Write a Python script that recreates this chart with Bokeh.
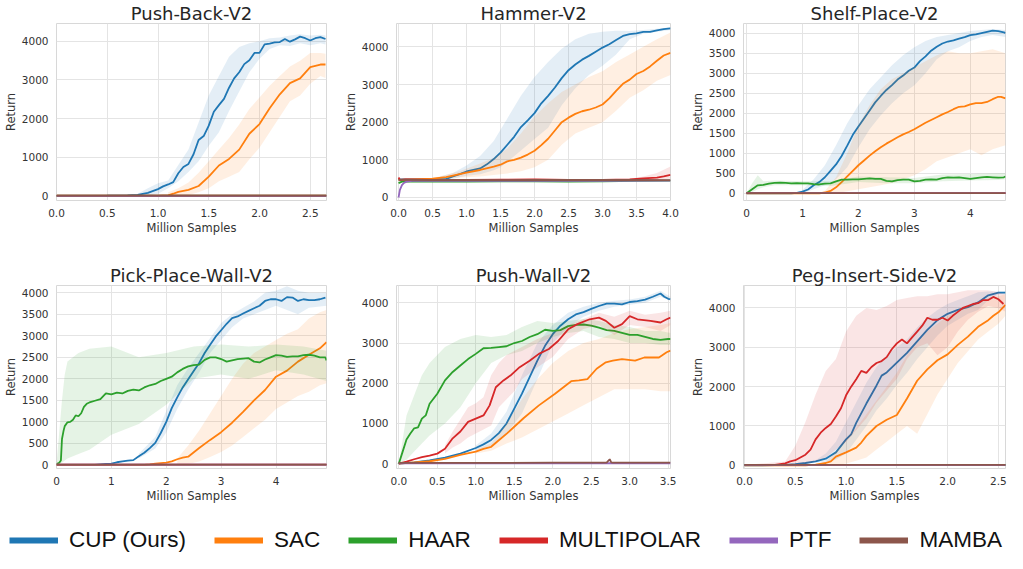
from bokeh.plotting import figure
from bokeh.layouts import column, row
from bokeh.models import Range1d, FixedTicker, Legend, LegendItem, PrintfTickFormatter
from bokeh.embed import file_html
from bokeh.resources import INLINE

methods = ["CUP (Ours)", "SAC", "HAAR", "MULTIPOLAR", "PTF", "MAMBA"]
colors = ["#1f77b4", "#ff7f0e", "#2ca02c", "#d62728", "#9467bd", "#8c564b"]

# ---------------- Push-Back-V2 ----------------
pb_cup_x = [0, 0.5, 0.7, 0.8, 0.9, 1.0, 1.05, 1.1, 1.15, 1.2, 1.25, 1.3, 1.35, 1.4, 1.45, 1.5, 1.55, 1.6, 1.65, 1.7,
            1.75, 1.8, 1.85, 1.9, 1.95, 2.0, 2.05, 2.1, 2.15, 2.2, 2.25, 2.3, 2.35, 2.4, 2.45, 2.5, 2.55, 2.6, 2.65]
pb_cup_y = [5, 10, 20, 30, 80, 180, 250, 300, 360, 590, 750, 830, 1080, 1450, 1550, 1820, 2180, 2350, 2510, 2800,
            3040, 3200, 3410, 3510, 3700, 3700, 3920, 3940, 3970, 3980, 4060, 3990, 4050, 4120, 4080, 4020, 4080, 4110, 4060]
pb_cup_bx = [0.7, 0.8, 0.9, 1.0, 1.1, 1.2, 1.3, 1.4, 1.5, 1.6, 1.7, 1.8, 1.9, 2.0, 2.1, 2.2, 2.3, 2.4, 2.5, 2.6, 2.65]
pb_cup_hi = [20, 60, 200, 330, 400, 800, 1200, 1900, 2600, 3100, 3600, 3850, 3950, 4000, 4080, 4100, 4150, 4180, 4150, 4170, 4150]
pb_cup_lo = [20, 0, 10, 60, 200, 380, 620, 900, 1300, 1650, 2200, 2700, 3200, 3550, 3800, 3900, 3880, 3950, 3900, 3950, 3920]
pb_sac_x = [0, 1.0, 1.1, 1.15, 1.2, 1.3, 1.4, 1.5, 1.6, 1.7, 1.8, 1.9, 2.0, 2.1, 2.2, 2.3, 2.4, 2.5, 2.6, 2.65]
pb_sac_y = [5, 5, 20, 60, 110, 160, 260, 500, 790, 960, 1200, 1610, 1860, 2270, 2630, 2920, 3040, 3330, 3400, 3400]
pb_sac_bx = [1.1, 1.2, 1.3, 1.4, 1.5, 1.6, 1.7, 1.8, 1.9, 2.0, 2.1, 2.2, 2.3, 2.4, 2.5, 2.6, 2.65]
pb_sac_hi = [100, 200, 350, 600, 900, 1200, 1500, 1850, 2250, 2550, 2850, 3100, 3350, 3500, 3700, 3700, 3680]
pb_sac_lo = [0, 0, 30, 100, 200, 380, 500, 620, 950, 1250, 1650, 2050, 2450, 2600, 2900, 3100, 3050]
pb_flat_x = [0, 2.66]
pb_haar_y = [8, 8]
pb_multi_y = [10, 10]
pb_ptf_y = [6, 6]
pb_mamba_y = [12, 12]

# ---------------- Hammer-V2 ----------------
hm_cup_x = [0, 0.5, 0.7, 0.8, 0.9, 1.0, 1.1, 1.2, 1.3, 1.4, 1.5, 1.6, 1.7, 1.8, 1.9, 2.0, 2.1, 2.2, 2.3, 2.4, 2.5,
            2.6, 2.7, 2.8, 2.9, 3.0, 3.1, 3.2, 3.3, 3.4, 3.5, 3.6, 3.7, 3.8, 3.9, 4.0]
hm_cup_y = [480, 490, 490, 560, 620, 690, 730, 770, 880, 1020, 1190, 1400, 1610, 1870, 2050, 2240, 2500, 2700, 2920,
            3170, 3380, 3530, 3660, 3760, 3870, 3980, 4070, 4180, 4290, 4340, 4360, 4400, 4400, 4440, 4470, 4490]
hm_cup_bx = [0.5, 0.8, 1.0, 1.2, 1.4, 1.5, 1.6, 1.8, 2.0, 2.2, 2.4, 2.6, 2.8, 3.0, 3.2, 3.4, 3.6, 3.8, 4.0]
hm_cup_hi = [500, 650, 850, 1100, 1500, 1800, 2100, 2700, 3200, 3600, 3950, 4200, 4350, 4400, 4430, 4420, 4450, 4480, 4520]
hm_cup_lo = [470, 500, 580, 620, 720, 800, 950, 1250, 1550, 1850, 2450, 2900, 3250, 3500, 3800, 4200, 4350, 4400, 4450]
hm_sac_x = [0, 0.5, 0.7, 0.9, 1.0, 1.2, 1.4, 1.5, 1.6, 1.7, 1.8, 1.9, 2.0, 2.1, 2.2, 2.3, 2.4, 2.5, 2.6, 2.7, 2.8,
            2.9, 3.0, 3.1, 3.2, 3.3, 3.4, 3.5, 3.6, 3.7, 3.8, 3.9, 4.0]
hm_sac_y = [470, 500, 540, 620, 660, 730, 820, 870, 960, 1000, 1060, 1140, 1240, 1390, 1560, 1780, 2000, 2120, 2220,
            2290, 2330, 2390, 2470, 2630, 2830, 3020, 3130, 3280, 3360, 3480, 3630, 3770, 3840]
hm_sac_bx = [0.5, 0.9, 1.2, 1.4, 1.6, 1.8, 2.0, 2.2, 2.4, 2.6, 2.8, 3.0, 3.2, 3.4, 3.6, 3.8, 4.0]
hm_sac_hi = [510, 700, 900, 1050, 1300, 1700, 2150, 2500, 2800, 3000, 3200, 3350, 3600, 3800, 4000, 4200, 4380]
hm_sac_lo = [480, 530, 560, 600, 640, 700, 800, 1000, 1400, 1700, 1850, 2000, 2300, 2650, 2850, 3100, 3250]
hm_haar_x = [0, 0.05, 0.5, 1.0, 1.5, 2.0, 2.5, 3.0, 3.5, 4.0]
hm_haar_y = [380, 420, 420, 425, 430, 430, 425, 430, 440, 450]
hm_multi_x = [0, 0.02, 0.1, 0.5, 1.0, 1.5, 2.0, 2.5, 3.0, 3.4, 3.6, 3.8, 3.9, 4.0]
hm_multi_y = [530, 470, 480, 470, 465, 475, 480, 470, 470, 480, 510, 530, 560, 600]
hm_multi_bx = [3.4, 3.6, 3.8, 4.0]
hm_multi_hi = [500, 560, 650, 820]
hm_multi_lo = [460, 470, 480, 500]
hm_ptf_x = [0, 0.02, 0.05, 0.08, 0.12, 0.2, 1.0, 2.0, 3.0, 4.0]
hm_ptf_y = [0, 200, 330, 390, 420, 440, 445, 445, 445, 450]
hm_mamba_x = [0, 0.5, 1.0, 1.5, 2.0, 2.5, 3.0, 3.5, 4.0]
hm_mamba_y = [470, 465, 470, 460, 470, 465, 470, 465, 460]

# ---------------- Shelf-Place-V2 ----------------
sp_cup_x = [0, 0.8, 0.9, 1.0, 1.1, 1.2, 1.3, 1.4, 1.5, 1.6, 1.7, 1.8, 1.9, 2.0, 2.1, 2.2, 2.3, 2.4, 2.5, 2.6, 2.7,
            2.8, 2.9, 3.0, 3.1, 3.2, 3.3, 3.4, 3.5, 3.6, 3.7, 3.8, 3.9, 4.0, 4.1, 4.2, 4.3, 4.4, 4.5, 4.6, 4.63]
sp_cup_y = [0, 0, 10, 40, 95, 200, 280, 400, 560, 720, 930, 1190, 1460, 1670, 1870, 2070, 2270, 2430, 2580, 2700,
            2840, 2940, 3060, 3140, 3300, 3420, 3560, 3660, 3740, 3790, 3820, 3860, 3900, 3950, 3970, 4000, 4030,
            4060, 4050, 4020, 4000]
sp_cup_bx = [0.9, 1.0, 1.2, 1.4, 1.6, 1.8, 2.0, 2.2, 2.4, 2.6, 2.8, 3.0, 3.2, 3.4, 3.6, 3.8, 4.0, 4.2, 4.4, 4.63]
sp_cup_hi = [20, 80, 350, 700, 1200, 1750, 2200, 2600, 2900, 3200, 3450, 3650, 3800, 3900, 3950, 4000, 4050, 4080, 4100, 4080]
sp_cup_lo = [0, 0, 100, 200, 350, 650, 1150, 1600, 1950, 2250, 2500, 2700, 3000, 3350, 3550, 3650, 3800, 3900, 3950, 3900]
sp_sac_x = [0, 1.3, 1.4, 1.5, 1.6, 1.7, 1.8, 1.9, 2.0, 2.1, 2.2, 2.3, 2.4, 2.5, 2.6, 2.7, 2.8, 2.9, 3.0, 3.1, 3.2,
            3.3, 3.4, 3.5, 3.6, 3.7, 3.8, 3.9, 4.0, 4.1, 4.2, 4.3, 4.4, 4.5, 4.55, 4.63]
sp_sac_y = [0, 0, 20, 60, 150, 280, 420, 560, 700, 820, 940, 1050, 1150, 1240, 1320, 1400, 1470, 1530, 1600, 1680,
            1760, 1830, 1900, 1970, 2030, 2100, 2160, 2170, 2220, 2250, 2250, 2280, 2350, 2410, 2410, 2370]
sp_sac_bx = [1.4, 1.6, 1.8, 2.0, 2.2, 2.4, 2.6, 2.8, 3.0, 3.2, 3.4, 3.6, 3.8, 4.0, 4.2, 4.4, 4.63]
sp_sac_hi = [60, 400, 1000, 1700, 2200, 2600, 2850, 3000, 3150, 3300, 3450, 3550, 3500, 3500, 3550, 3600, 3500]
sp_sac_lo = [0, 0, 50, 100, 150, 200, 260, 350, 450, 600, 800, 900, 1000, 1100, 950, 1100, 1200]
sp_haar_x = [0, 0.1, 0.2, 0.3, 0.4, 0.5, 0.6, 0.7, 0.8, 0.9, 1.0, 1.1, 1.2, 1.3, 1.4, 1.5, 1.6, 1.7, 1.8, 1.9,
             2.0, 2.1, 2.2, 2.3, 2.4, 2.5, 2.6, 2.7, 2.8, 2.9, 3.0, 3.1, 3.2, 3.3, 3.4, 3.5, 3.6, 3.7, 3.8, 3.9,
             4.0, 4.1, 4.2, 4.3, 4.4, 4.5, 4.6, 4.63]
sp_haar_y = [0, 100, 200, 210, 240, 260, 265, 260, 250, 255, 250, 250, 230, 220, 240, 250, 300, 340, 340, 350,
             350, 360, 370, 360, 360, 310, 300, 330, 340, 340, 300, 310, 340, 350, 340, 380, 400, 390, 400, 380,
             360, 380, 400, 410, 400, 390, 400, 420]
sp_haar_bx = [0, 0.1, 0.2, 0.3, 0.5, 1.0, 1.5, 2.0, 2.5, 3.0, 3.5, 4.0, 4.5, 4.63]
sp_haar_hi = [0, 250, 450, 300, 320, 300, 300, 420, 400, 380, 470, 480, 500, 500]
sp_haar_lo = [0, 30, 100, 150, 200, 200, 180, 280, 250, 250, 300, 320, 330, 350]
sp_flat_x = [0, 4.65]
sp_multi_y = [4, 4]
sp_ptf_y = [3, 3]
sp_mamba_y = [6, 6]

# ---------------- Pick-Place-Wall-V2 ----------------
ppw_cup_x = [0, 0.7, 0.8, 0.9, 1.0, 1.1, 1.2, 1.3, 1.4, 1.5, 1.6, 1.7, 1.8, 1.9, 2.0, 2.1, 2.2, 2.3, 2.4, 2.5,
             2.6, 2.7, 2.8, 2.9, 3.0, 3.1, 3.2, 3.3, 3.4, 3.5, 3.6, 3.7, 3.8, 3.9, 4.0, 4.1, 4.2, 4.3, 4.4, 4.5,
             4.6, 4.7, 4.8, 4.9]
ppw_cup_y = [0, 0, 10, 20, 30, 60, 80, 100, 110, 200, 280, 390, 510, 740, 1000, 1320, 1570, 1800, 1990, 2180,
             2370, 2600, 2790, 2980, 3130, 3280, 3410, 3450, 3520, 3580, 3640, 3700, 3810, 3850, 3850, 3810, 3900,
             3890, 3810, 3850, 3830, 3830, 3850, 3890]
ppw_cup_bx = [1.5, 1.8, 2.0, 2.2, 2.4, 2.6, 2.8, 3.0, 3.2, 3.4, 3.6, 3.8, 4.0, 4.2, 4.4, 4.6, 4.92]
ppw_cup_hi = [260, 650, 1250, 1850, 2250, 2600, 2950, 3300, 3500, 3650, 3800, 4000, 4050, 4150, 4050, 4000, 4000]
ppw_cup_lo = [150, 380, 750, 1300, 1750, 2150, 2600, 2900, 3200, 3400, 3500, 3600, 3700, 3600, 3500, 3650, 3700]
ppw_sac_x = [0, 1.6, 1.7, 1.8, 1.9, 2.0, 2.1, 2.2, 2.3, 2.4, 2.6, 2.8, 3.0, 3.2, 3.4, 3.6, 3.8, 4.0, 4.2, 4.4,
             4.6, 4.8, 4.92]
ppw_sac_y = [0, 0, 10, 30, 40, 50, 80, 130, 170, 190, 390, 580, 760, 980, 1230, 1500, 1740, 2050, 2190, 2400,
             2560, 2710, 2850]
ppw_sac_bx = [2.2, 2.4, 2.6, 2.8, 3.0, 3.2, 3.4, 3.6, 3.8, 4.0, 4.2, 4.4, 4.6, 4.8, 4.92]
ppw_sac_hi = [150, 450, 800, 1200, 1600, 2000, 2350, 2600, 2750, 2900, 3050, 3150, 3400, 3550, 3600]
ppw_sac_lo = [20, 20, 80, 180, 300, 450, 650, 850, 1050, 1300, 1450, 1600, 1700, 1850, 1900]
ppw_haar_x = [0, 0.05, 0.08, 0.1, 0.13, 0.15, 0.2, 0.25, 0.3, 0.35, 0.4, 0.45, 0.5, 0.55, 0.6, 0.7, 0.8, 0.9,
              1.0, 1.1, 1.2, 1.3, 1.4, 1.5, 1.6, 1.7, 1.8, 1.9, 2.0, 2.1, 2.2, 2.3, 2.4, 2.5, 2.6, 2.7, 2.8, 2.9,
              3.0, 3.1, 3.2, 3.3, 3.4, 3.5, 3.6, 3.7, 3.8, 3.9, 4.0, 4.1, 4.2, 4.3, 4.4, 4.5, 4.6, 4.7, 4.8, 4.9, 4.92]
ppw_haar_y = [20, 50, 100, 600, 800, 900, 990, 1000, 1050, 1150, 1130, 1200, 1350, 1420, 1450, 1490, 1530, 1660,
              1640, 1680, 1660, 1720, 1750, 1730, 1800, 1850, 1880, 1950, 2000, 2050, 2150, 2230, 2290, 2320, 2330,
              2440, 2500, 2500, 2460, 2400, 2430, 2460, 2470, 2480, 2400, 2380, 2450, 2500, 2550, 2540, 2510, 2520,
              2520, 2550, 2560, 2540, 2500, 2500, 2430]
ppw_haar_bx = [0, 0.1, 0.15, 0.2, 0.4, 0.6, 1.0, 1.5, 2.0, 2.5, 3.0, 3.5, 4.0, 4.5, 4.92]
ppw_haar_hi = [20, 1500, 2100, 2400, 2600, 2700, 2750, 2500, 2600, 2750, 2800, 2750, 2800, 2750, 2650]
ppw_haar_lo = [0, 50, 100, 150, 250, 350, 700, 950, 1400, 2000, 2100, 2000, 2200, 2100, 1950]
ppw_flat_x = [0, 4.93]
ppw_multi_y = [4, 4]
ppw_ptf_y = [3, 3]
ppw_mamba_y = [6, 6]

# ---------------- Push-Wall-V2 ----------------
pw_cup_x = [0, 0.2, 0.4, 0.6, 0.8, 1.0, 1.1, 1.2, 1.3, 1.4, 1.5, 1.6, 1.7, 1.8, 1.9, 2.0, 2.1, 2.2, 2.3, 2.4,
            2.5, 2.6, 2.7, 2.8, 2.9, 3.0, 3.1, 3.2, 3.3, 3.4, 3.45, 3.5, 3.53]
pw_cup_y = [0, 30, 80, 150, 250, 390, 480, 590, 760, 1000, 1370, 1740, 2150, 2560, 2930, 3220, 3430, 3590, 3710,
            3770, 3850, 3920, 3980, 3980, 3960, 4020, 4040, 4080, 4150, 4230, 4150, 4100, 4090]
pw_cup_bx = [1.0, 1.2, 1.4, 1.6, 1.8, 2.0, 2.2, 2.4, 2.6, 2.8, 3.0, 3.2, 3.4, 3.53]
pw_cup_hi = [450, 750, 1300, 2200, 3000, 3450, 3750, 3900, 4000, 4050, 4080, 4150, 4300, 4150]
pw_cup_lo = [330, 450, 750, 1250, 2100, 3000, 3400, 3650, 3800, 3900, 3950, 4000, 4150, 4050]
pw_sac_x = [0, 0.2, 0.4, 0.6, 0.8, 1.0, 1.1, 1.2, 1.28, 1.41, 1.62, 1.82, 2.03, 2.24, 2.34, 2.45, 2.57, 2.69,
            2.78, 2.9, 3.07, 3.19, 3.38, 3.48, 3.53]
pw_sac_y = [0, 30, 60, 120, 220, 300, 370, 420, 550, 760, 1130, 1450, 1740, 2050, 2070, 2100, 2360, 2520, 2560,
            2600, 2560, 2640, 2640, 2770, 2810]
pw_sac_bx = [1.0, 1.2, 1.4, 1.6, 1.8, 2.0, 2.2, 2.4, 2.6, 2.8, 3.0, 3.2, 3.4, 3.53]
pw_sac_hi = [350, 500, 1000, 1600, 2100, 2500, 2800, 3000, 3100, 3250, 3350, 3400, 3450, 3500]
pw_sac_lo = [250, 320, 500, 650, 850, 1050, 1250, 1450, 1650, 1850, 1850, 1850, 1800, 1800]
pw_haar_x = [0, 0.05, 0.1, 0.15, 0.2, 0.25, 0.3, 0.35, 0.4, 0.5, 0.6, 0.7, 0.8, 0.9, 1.0, 1.1, 1.2, 1.3, 1.4,
             1.5, 1.6, 1.7, 1.8, 1.9, 2.0, 2.1, 2.2, 2.3, 2.4, 2.5, 2.6, 2.7, 2.8, 2.9, 3.0, 3.1, 3.2, 3.3, 3.4,
             3.5, 3.53]
pw_haar_y = [0, 300, 600, 750, 880, 900, 1120, 1200, 1490, 1740, 2070, 2280, 2440, 2600, 2730, 2870, 2880, 2900,
             2920, 3000, 3050, 3150, 3220, 3330, 3300, 3320, 3420, 3450, 3460, 3430, 3380, 3320, 3300, 3250, 3200,
             3200, 3150, 3100, 3080, 3100, 3100]
pw_haar_bx = [0, 0.1, 0.2, 0.3, 0.4, 0.6, 0.8, 1.0, 1.2, 1.4, 1.6, 1.8, 2.0, 2.2, 2.4, 2.6, 2.8, 3.0, 3.2, 3.4, 3.53]
pw_haar_hi = [0, 1200, 1700, 2200, 2500, 2900, 3100, 3200, 3150, 3200, 3400, 3550, 3500, 3550, 3600, 3550, 3450,
              3400, 3300, 3300, 3250]
pw_haar_lo = [0, 100, 300, 500, 700, 1000, 1400, 2000, 2500, 2700, 2800, 3000, 3150, 3250, 3300, 3150, 3100, 3000,
              3000, 2950, 2950]
pw_multi_x = [0, 0.1, 0.2, 0.3, 0.4, 0.5, 0.6, 0.7, 0.8, 0.9, 1.0, 1.1, 1.18, 1.26, 1.36, 1.45, 1.57, 1.7, 1.82,
              1.95, 2.07, 2.2, 2.32, 2.48, 2.6, 2.69, 2.8, 2.9, 3.0, 3.1, 3.27, 3.4, 3.48, 3.53]
pw_multi_y = [0, 50, 110, 160, 200, 250, 370, 630, 800, 1040, 1120, 1200, 1450, 1900, 2070, 2190, 2400, 2560, 2730,
              2850, 3050, 3340, 3470, 3590, 3630, 3550, 3380, 3470, 3670, 3590, 3550, 3510, 3590, 3630]
pw_multi_bx = [0.6, 0.7, 0.8, 0.9, 1.0, 1.1, 1.2, 1.3, 1.4, 1.5, 1.6, 1.8, 2.0, 2.2, 2.4, 2.6, 2.8, 3.0, 3.2, 3.4, 3.53]
pw_multi_hi = [450, 800, 1100, 1400, 1500, 1650, 2200, 2500, 2700, 2800, 2900, 3100, 3250, 3450, 3600, 3750, 3650,
               3800, 3700, 3750, 3800]
pw_multi_lo = [250, 400, 500, 650, 750, 850, 950, 1400, 1600, 1800, 2100, 2400, 2650, 3100, 3350, 3450, 3200, 3450,
               3400, 3300, 3450]
pw_ptf_x = [0, 3.53]
pw_ptf_y = [10, 10]
pw_mamba_x = [0, 1.0, 2.0, 2.7, 2.74, 2.76, 2.78, 3.53]
pw_mamba_y = [20, 20, 25, 25, 110, 30, 25, 25]

# ---------------- Peg-Insert-Side-V2 ----------------
pis_cup_x = [0, 0.3, 0.4, 0.5, 0.6, 0.7, 0.8, 0.85, 0.9, 1.0, 1.05, 1.1, 1.2, 1.3, 1.35, 1.4, 1.5, 1.6, 1.7, 1.8,
             1.9, 2.0, 2.1, 2.2, 2.3, 2.4, 2.5, 2.57]
pis_cup_y = [0, 5, 10, 30, 60, 100, 170, 250, 330, 660, 790, 1080, 1570, 2030, 2280, 2360, 2610, 2860, 3150, 3440,
             3690, 3850, 3950, 4020, 4140, 4320, 4390, 4390]
pis_cup_bx = [0.7, 0.8, 0.9, 1.0, 1.1, 1.2, 1.3, 1.4, 1.5, 1.6, 1.7, 1.8, 1.9, 2.0, 2.1, 2.2, 2.3, 2.4, 2.5, 2.57]
pis_cup_hi = [130, 300, 600, 1100, 1600, 2100, 2500, 2800, 3000, 3200, 3500, 3750, 3950, 4100, 4200, 4300, 4400,
              4420, 4420, 4420]
pis_cup_lo = [70, 80, 150, 300, 650, 1000, 1400, 1700, 2050, 2350, 2700, 3000, 3300, 3550, 3700, 3850, 3950, 4200,
              4350, 4350]
pis_sac_x = [0, 0.6, 0.7, 0.8, 0.85, 0.9, 1.0, 1.1, 1.15, 1.2, 1.3, 1.4, 1.5, 1.6, 1.7, 1.8, 1.9, 2.0, 2.1, 2.2,
             2.3, 2.4, 2.45, 2.5, 2.57]
pis_sac_y = [0, 0, 20, 60, 100, 220, 330, 450, 580, 750, 1000, 1160, 1280, 1700, 2150, 2440, 2670, 2820, 3060, 3270,
             3520, 3690, 3800, 3890, 4080]
pis_sac_bx = [0.8, 0.9, 1.0, 1.1, 1.2, 1.3, 1.4, 1.5, 1.6, 1.7, 1.8, 1.9, 2.0, 2.1, 2.2, 2.3, 2.4, 2.5, 2.57]
pis_sac_hi = [100, 350, 650, 950, 1300, 1650, 2000, 2350, 2800, 3100, 3400, 3600, 3800, 3900, 4050, 4150, 4250,
              4300, 4350]
pis_sac_lo = [0, 10, 50, 120, 200, 400, 600, 800, 1000, 800, 1300, 1800, 2200, 2600, 2900, 3200, 3400, 3600, 3800]
pis_multi_x = [0, 0.3, 0.35, 0.4, 0.45, 0.5, 0.55, 0.6, 0.65, 0.7, 0.75, 0.8, 0.85, 0.9, 0.95, 1.0, 1.05, 1.1,
               1.15, 1.2, 1.25, 1.3, 1.35, 1.4, 1.45, 1.5, 1.55, 1.6, 1.65, 1.7, 1.75, 1.8, 1.85, 1.9, 1.95, 2.0,
               2.05, 2.1, 2.15, 2.2, 2.25, 2.3, 2.35, 2.4, 2.45, 2.5, 2.55]
pis_multi_y = [10, 10, 30, 50, 100, 130, 200, 270, 400, 660, 830, 950, 1050, 1240, 1450, 1780, 2000, 2190, 2400,
               2350, 2500, 2600, 2650, 2750, 2950, 3100, 3200, 3100, 3250, 3400, 3550, 3750, 3700, 3700, 3750, 3680,
               3800, 3900, 4000, 4050, 4100, 4120, 4200, 4200, 4280, 4220, 4100]
pis_multi_bx = [0, 0.4, 0.5, 0.6, 0.7, 0.8, 0.9, 1.0, 1.1, 1.2, 1.3, 1.4, 1.5, 1.6, 1.7, 1.8, 1.9, 2.0, 2.1, 2.2,
                2.3, 2.4, 2.5, 2.57]
pis_multi_hi = [10, 100, 500, 1100, 1800, 2400, 2700, 3400, 3800, 4000, 3950, 4050, 4200, 4250, 4300, 4300, 4350,
                4350, 4400, 4450, 4450, 4450, 4400, 4350]
pis_multi_lo = [0, 0, 10, 30, 100, 200, 400, 600, 900, 1200, 1600, 1900, 2200, 2700, 3000, 3100, 2800, 3000, 3400,
                3700, 3900, 4050, 4000, 3900]
pis_flat_x = [0, 2.6]
pis_haar_y = [12, 12]
pis_ptf_y = [8, 8]
pis_mamba_y = [14, 14]

# ---------------- axes ----------------
ticks_pb_x = [0.0, 0.5, 1.0, 1.5, 2.0, 2.5]
ticks_hm_x = [0.0, 0.5, 1.0, 1.5, 2.0, 2.5, 3.0, 3.5, 4.0]
ticks_int5 = [0, 1, 2, 3, 4]
ticks_pw_x = [0.0, 0.5, 1.0, 1.5, 2.0, 2.5, 3.0, 3.5]
ticks_pis_x = [0.0, 0.5, 1.0, 1.5, 2.0, 2.5]
ticks_y1000 = [0, 1000, 2000, 3000, 4000]
ticks_y500 = [0, 500, 1000, 1500, 2000, 2500, 3000, 3500, 4000]

TXT = "#333333"
FONT = "DejaVu Sans"


def make_fig(title, width, height, left, right, bottom, xr, yr, xt, xfmt, yt):
    p = figure(width=width, height=height, toolbar_location=None, output_backend="svg",
               x_range=Range1d(*xr), y_range=Range1d(*yr),
               min_border_left=left, min_border_right=right, min_border_top=10, min_border_bottom=bottom)
    p.title.text = title
    p.title.align = "center"
    p.title.text_font = FONT
    p.title.text_font_size = "18px"
    p.title.text_font_style = "normal"
    p.title.text_color = "#262626"
    p.title.standoff = 0
    p.title.offset = 0
    p.xaxis.ticker = FixedTicker(ticks=xt)
    p.xaxis.formatter = PrintfTickFormatter(format=xfmt)
    p.yaxis.ticker = FixedTicker(ticks=yt)
    p.xaxis.axis_label = "Million Samples"
    p.yaxis.axis_label = "Return"
    for ax in (p.xaxis[0], p.yaxis[0]):
        ax.axis_line_color = None
        ax.major_tick_line_color = None
        ax.minor_tick_line_color = None
        ax.major_label_text_font = FONT
        ax.major_label_text_font_size = "10.5px"
        ax.major_label_text_color = TXT
        ax.major_label_standoff = 2
        ax.axis_label_text_font = FONT
        ax.axis_label_text_font_size = "11.5px"
        ax.axis_label_text_font_style = "normal"
        ax.axis_label_text_color = TXT
        ax.axis_label_standoff = 1
    p.xgrid.grid_line_color = "#e4e4e4"
    p.ygrid.grid_line_color = "#e4e4e4"
    p.outline_line_color = "#d8d8d8"
    p.outline_line_width = 1
    p.background_fill_color = "white"
    p.border_fill_color = "white"
    return p


def draw(p, series):
    for s in series:
        color = colors[methods.index(s[0])]
        if len(s) > 3:
            p.varea(x=s[3], y1=s[4], y2=s[5], fill_color=color, fill_alpha=0.12)
        p.line(x=s[1], y=s[2], line_color=color, line_width=1.8)


H1, H2, H3 = 262, 243, 48

f1 = make_fig("Push-Back-V2", 340, H1, 39, 14, 62, (0, 2.66), (-115, 4460), ticks_pb_x, "%.1f", ticks_y1000)
draw(f1, [("CUP (Ours)", pb_cup_x, pb_cup_y, pb_cup_bx, pb_cup_lo, pb_cup_hi),
          ("SAC", pb_sac_x, pb_sac_y, pb_sac_bx, pb_sac_lo, pb_sac_hi),
          ("HAAR", pb_flat_x, pb_haar_y), ("MULTIPOLAR", pb_flat_x, pb_multi_y),
          ("PTF", pb_flat_x, pb_ptf_y), ("MAMBA", pb_flat_x, pb_mamba_y)])

f2 = make_fig("Hammer-V2", 347, H1, 46, 17, 62, (-0.03, 4.0), (-80, 4620), ticks_hm_x, "%.1f", ticks_y1000)
draw(f2, [("CUP (Ours)", hm_cup_x, hm_cup_y, hm_cup_bx, hm_cup_lo, hm_cup_hi),
          ("SAC", hm_sac_x, hm_sac_y, hm_sac_bx, hm_sac_lo, hm_sac_hi),
          ("HAAR", hm_haar_x, hm_haar_y),
          ("MULTIPOLAR", hm_multi_x, hm_multi_y, hm_multi_bx, hm_multi_lo, hm_multi_hi),
          ("PTF", hm_ptf_x, hm_ptf_y), ("MAMBA", hm_mamba_x, hm_mamba_y)])

f3 = make_fig("Shelf-Place-V2", 320, H1, 38, 2, 62, (-0.055, 4.63), (-180, 4240), ticks_int5, "%d", ticks_y500)
draw(f3, [("CUP (Ours)", sp_cup_x, sp_cup_y, sp_cup_bx, sp_cup_lo, sp_cup_hi),
          ("SAC", sp_sac_x, sp_sac_y, sp_sac_bx, sp_sac_lo, sp_sac_hi),
          ("HAAR", sp_haar_x, sp_haar_y, sp_haar_bx, sp_haar_lo, sp_haar_hi),
          ("MULTIPOLAR", sp_flat_x, sp_multi_y), ("PTF", sp_flat_x, sp_ptf_y), ("MAMBA", sp_flat_x, sp_mamba_y)])

f4 = make_fig("Pick-Place-Wall-V2", 340, H2, 38, 14, 36, (0, 4.92), (-85, 4170), ticks_int5, "%d", ticks_y500)
draw(f4, [("CUP (Ours)", ppw_cup_x, ppw_cup_y, ppw_cup_bx, ppw_cup_lo, ppw_cup_hi),
          ("SAC", ppw_sac_x, ppw_sac_y, ppw_sac_bx, ppw_sac_lo, ppw_sac_hi),
          ("HAAR", ppw_haar_x, ppw_haar_y, ppw_haar_bx, ppw_haar_lo, ppw_haar_hi),
          ("MULTIPOLAR", ppw_flat_x, ppw_multi_y), ("PTF", ppw_flat_x, ppw_ptf_y), ("MAMBA", ppw_flat_x, ppw_mamba_y)])

f5 = make_fig("Push-Wall-V2", 347, H2, 38, 17, 36, (-0.03, 3.53), (-120, 4430), ticks_pw_x, "%.1f", ticks_y1000)
draw(f5, [("CUP (Ours)", pw_cup_x, pw_cup_y, pw_cup_bx, pw_cup_lo, pw_cup_hi),
          ("SAC", pw_sac_x, pw_sac_y, pw_sac_bx, pw_sac_lo, pw_sac_hi),
          ("HAAR", pw_haar_x, pw_haar_y, pw_haar_bx, pw_haar_lo, pw_haar_hi),
          ("MULTIPOLAR", pw_multi_x, pw_multi_y, pw_multi_bx, pw_multi_lo, pw_multi_hi),
          ("PTF", pw_ptf_x, pw_ptf_y), ("MAMBA", pw_mamba_x, pw_mamba_y)])

f6 = make_fig("Peg-Insert-Side-V2", 320, H2, 43, 2, 36, (-0.01, 2.57), (-80, 4570), ticks_pis_x, "%.1f", ticks_y1000)
draw(f6, [("CUP (Ours)", pis_cup_x, pis_cup_y, pis_cup_bx, pis_cup_lo, pis_cup_hi),
          ("SAC", pis_sac_x, pis_sac_y, pis_sac_bx, pis_sac_lo, pis_sac_hi),
          ("MULTIPOLAR", pis_multi_x, pis_multi_y, pis_multi_bx, pis_multi_lo, pis_multi_hi),
          ("HAAR", pis_flat_x, pis_haar_y), ("PTF", pis_flat_x, pis_ptf_y), ("MAMBA", pis_flat_x, pis_mamba_y)])

# ---------------- legend strip ----------------
lf = figure(width=1007, height=H3, toolbar_location=None, output_backend="svg",
            x_range=Range1d(0, 1), y_range=Range1d(0, 1), min_border=0)
lf.axis.visible = False
lf.grid.visible = False
lf.outline_line_color = None
nan = float("nan")
items = []
for m, c in zip(methods, colors):
    r = lf.line(x=[nan, nan], y=[nan, nan], line_color=c, line_width=6)
    items.append(LegendItem(label=m, renderers=[r]))
leg = Legend(items=items, orientation="horizontal", location=(9, 0), glyph_width=49, glyph_height=18,
             label_height=18, label_standoff=11, spacing=28, padding=0, margin=0, border_line_color=None,
             background_fill_alpha=0, label_text_font="Liberation Sans", label_text_font_size="22.5px",
             label_text_color="#111111")
lf.add_layout(leg)

layout = column(row(f1, f2, f3), row(f4, f5, f6), lf)
open("out.html", "w").write(file_html(layout, INLINE))
